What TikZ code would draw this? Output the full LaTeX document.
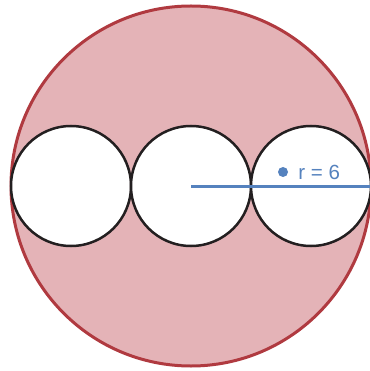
\documentclass[tikz,border=0pt]{standalone}
\usepackage{fontspec}
\setsansfont{Liberation Sans}
\usepackage{tikz}
\usetikzlibrary{positioning}
\definecolor{discred}{HTML}{B03A40}
\definecolor{discfill}{HTML}{E4B3B7}
\definecolor{rblue}{HTML}{5582BE}
\definecolor{ringblack}{HTML}{231F20}
\tikzset{
  bigdisc/.style={circle, draw=discred, line width=3pt, fill=discfill,
    minimum size=360pt, inner sep=0pt},
  hole/.style={circle, draw=ringblack, line width=2.5pt, fill=white,
    minimum size=120pt, inner sep=0pt},
  rdot/.style={circle, fill=rblue, minimum size=10pt, inner sep=0pt},
  rlabel/.style={font=\sffamily\fontsize{20.5}{20.5}\selectfont, text=rblue, inner sep=0pt},
  rline/.style={draw=rblue, line width=3pt},
}

\begin{document}
\begin{tikzpicture}[x=1pt, y=-1pt]
  \useasboundingbox (0,0) rectangle (369,371);
  \node[bigdisc] (disc) at (191,186) {};
  \node[hole] (left)  at (71,186)  {};
  \node[hole] (mid)   at (191,186) {};
  \node[hole] (right) at (311,186) {};

  \draw[rline] (mid.center) -- (disc.east);
  \node[rdot] (dot) at (283,172) {};
  \node[rlabel, right=10pt of dot] (r) {r = 6};
\end{tikzpicture}
\end{document}
